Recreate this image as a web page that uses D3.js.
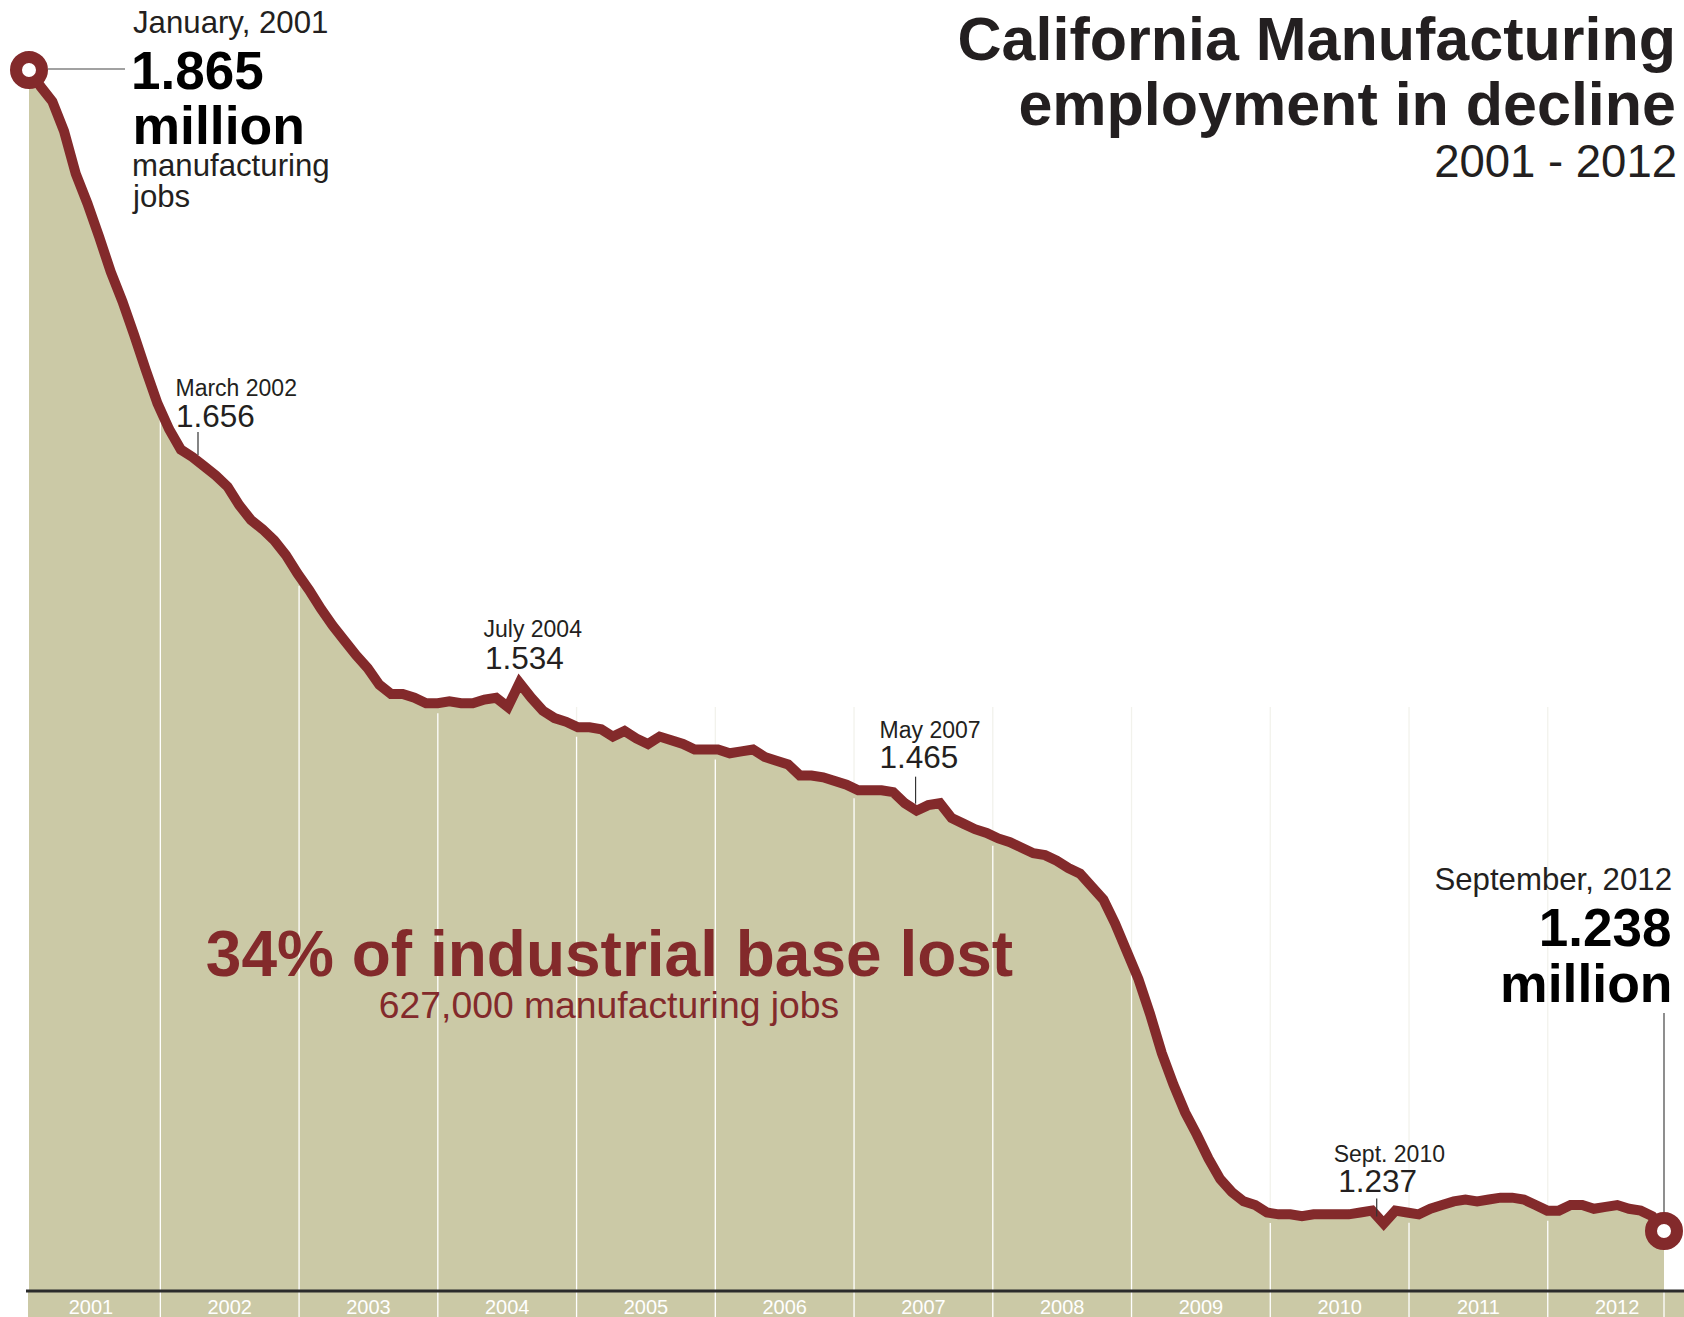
<html>
  <head>
    <title>California Manufacturing employment in decline</title>
    <script src="https://d3js.org/d3.v7.min.js"></script>
    <style>
      body { margin: 0; background: #ffffff; }
      svg { display: block; font-family: "Liberation Sans", Arial, Helvetica, sans-serif; }
    </style>
  </head>
  <body>
    <script>
      const w = 1684;
      const h = 1317;
      const axisY = 1291;

      // California manufacturing jobs, thousands, one value per month
      const jobs2001 = [1865, 1856, 1848, 1832, 1809, 1793, 1775, 1756, 1740, 1722, 1703, 1685];
      const jobs2002 = [1671, 1660, 1656, 1651, 1646, 1640, 1630, 1622, 1617, 1611, 1603, 1593];
      const jobs2003 = [1584, 1574, 1565, 1557, 1549, 1542, 1533, 1528, 1528, 1526, 1523, 1523];
      const jobs2004 = [1524, 1523, 1523, 1525, 1526, 1521, 1534, 1526, 1519, 1515, 1513, 1510];
      const jobs2005 = [1510, 1509, 1505, 1508, 1504, 1501, 1505, 1503, 1501, 1498, 1498, 1498];
      const jobs2006 = [1496, 1497, 1498, 1494, 1492, 1490, 1484, 1484, 1483, 1481, 1479, 1476];
      const jobs2007 = [1476, 1476, 1475, 1469, 1465, 1468, 1469, 1461, 1458, 1455, 1453, 1450];
      const jobs2008 = [1448, 1445, 1442, 1441, 1438, 1434, 1431, 1424, 1417, 1404, 1389, 1374];
      const jobs2009 = [1355, 1334, 1317, 1302, 1290, 1277, 1266, 1259, 1254, 1252, 1248, 1247];
      const jobs2010 = [1247, 1246, 1247, 1247, 1247, 1247, 1248, 1249, 1242, 1249, 1248, 1247];
      const jobs2011 = [1250, 1252, 1254, 1255, 1254, 1255, 1256, 1256, 1255, 1252, 1249, 1249];
      const jobs2012 = [1252, 1252, 1250, 1251, 1252, 1250, 1249, 1246, 1238];

      const years = ["2001", "2002", "2003", "2004", "2005", "2006",
                     "2007", "2008", "2009", "2010", "2011", "2012"];

      const calloutDates = ["March 2002", "July 2004", "May 2007", "Sept. 2010"];
      const calloutValues = ["1.656", "1.534", "1.465", "1.237"];
      const calloutMonths = [14, 42, 76, 116];

      // where each callout sits relative to its point
      const calloutLayout = [
        { dateX: -17, valueX: -16.5, dateY: -61, valueY: -30.5, tick: [5.5, -25, -2] },
        { dateX: -36, valueX: -34.5, dateY: -46, valueY: -14, tick: null },
        { dateX: -37, valueX: -37, dateY: -73, valueY: -42.5, tick: [-1, -34, -7] },
        { dateX: -50, valueX: -45.5, dateY: -62, valueY: -32, tick: [-7, -25, -7] }
      ];

      const lineColor = "#832a2b";
      const fillColor = "#cbc9a6";
      const textColor = "#231f20";

      var dataset = [].concat(jobs2001, jobs2002, jobs2003, jobs2004, jobs2005, jobs2006,
                              jobs2007, jobs2008, jobs2009, jobs2010, jobs2011, jobs2012);
      const last = dataset.length - 1;

      const xScale = d3.scaleLinear().domain([0, last]).range([29, 1664]);
      const yScale = d3.scaleLinear().domain([1238, 1865]).range([1231, 70]);
      const yearScale = d3.scaleBand().domain(years).range([21.6, 1686.5]);

      // value of the line under any x, for where the white year lines start
      function valueAt(px) {
        const t = Math.max(0, Math.min(last, xScale.invert(px)));
        const i = Math.min(last - 1, Math.floor(t));
        return dataset[i] + (dataset[i + 1] - dataset[i]) * (t - i);
      }

      var svg = d3.select("body").append("svg").attr("width", w).attr("height", h);

      // faint year lines that show a little above the fill
      svg.append("g")
        .selectAll("line")
        .data(years.slice(1))
        .join("line")
        .attr("x1", (d) => yearScale(d))
        .attr("x2", (d) => yearScale(d))
        .attr("y1", 707)
        .attr("y2", axisY)
        .attr("stroke", "#f2f2ec")
        .attr("stroke-width", 1.3);

      const area = d3
        .area()
        .x((d, i) => xScale(i))
        .y0(h)
        .y1((d) => yScale(d));

      svg.append("path").datum(dataset).attr("d", area).attr("fill", fillColor);

      // the tan strip under the axis carries on to the edge
      svg
        .append("rect")
        .attr("x", xScale(0) - 1)
        .attr("y", axisY)
        .attr("width", w - xScale(0) + 1)
        .attr("height", h - axisY)
        .attr("fill", fillColor);

      svg.append("g")
        .selectAll("line")
        .data(years.slice(1))
        .join("line")
        .attr("x1", (d) => yearScale(d))
        .attr("x2", (d) => yearScale(d))
        .attr("y1", (d) => yScale(valueAt(yearScale(d))) + 10)
        .attr("y2", h)
        .attr("stroke", "#ffffff")
        .attr("stroke-width", 1.3);

      svg
        .append("line")
        .attr("x1", xScale(last))
        .attr("x2", xScale(last))
        .attr("y1", axisY)
        .attr("y2", h)
        .attr("stroke", "#ffffff")
        .attr("stroke-width", 1.3);

      svg
        .append("line")
        .attr("x1", 26)
        .attr("x2", w)
        .attr("y1", axisY)
        .attr("y2", axisY)
        .attr("stroke", "#2b2b2b")
        .attr("stroke-width", 3);

      svg.append("g")
        .selectAll("text")
        .data(years)
        .join("text")
        .attr("x", (d) => yearScale(d) + yearScale.bandwidth() / 2)
        .attr("y", 1314)
        .attr("text-anchor", "middle")
        .attr("fill", "#ffffff")
        .style("font-size", "20px")
        .text((d) => d);

      const line = d3
        .line()
        .x((d, i) => xScale(i))
        .y((d) => yScale(d));

      svg
        .append("path")
        .datum(dataset)
        .attr("d", line)
        .attr("fill", "none")
        .attr("stroke", lineColor)
        .attr("stroke-width", 10)
        .attr("stroke-linejoin", "miter");

      // leader lines to the two end labels
      svg
        .append("line")
        .attr("x1", xScale(0) + 19)
        .attr("x2", 125)
        .attr("y1", yScale(dataset[0]) - 1)
        .attr("y2", yScale(dataset[0]) - 1)
        .attr("stroke", "#444")
        .attr("stroke-width", 1.2);

      svg
        .append("line")
        .attr("x1", xScale(last))
        .attr("x2", xScale(last))
        .attr("y1", 1013)
        .attr("y2", yScale(dataset[last]) - 19)
        .attr("stroke", "#444")
        .attr("stroke-width", 1.2);

      svg.append("g")
        .selectAll("circle")
        .data([0, last])
        .join("circle")
        .attr("cx", (d) => xScale(d))
        .attr("cy", (d) => yScale(dataset[d]))
        .attr("r", 13)
        .attr("fill", "#ffffff")
        .attr("stroke", lineColor)
        .attr("stroke-width", 12);

      // callouts along the line
      calloutMonths.forEach(function (m, k) {
        const px = xScale(m);
        const py = yScale(dataset[m]);
        const lay = calloutLayout[k];
        svg
          .append("text")
          .attr("x", px + lay.dateX)
          .attr("y", py + lay.dateY)
          .attr("fill", textColor)
          .style("font-size", "23px")
          .text(calloutDates[k]);
        svg
          .append("text")
          .attr("x", px + lay.valueX)
          .attr("y", py + lay.valueY)
          .attr("fill", textColor)
          .style("font-size", "31.5px")
          .text(calloutValues[k]);
        if (lay.tick) {
          svg
            .append("line")
            .attr("x1", px + lay.tick[0])
            .attr("x2", px + lay.tick[0])
            .attr("y1", py + lay.tick[1])
            .attr("y2", py + lay.tick[2])
            .attr("stroke", "#333")
            .attr("stroke-width", 1.2);
        }
      });

      // start label
      const startLabel = svg.append("g").attr("fill", "#000");
      startLabel.append("text").attr("x", 133).attr("y", 33)
        .style("font-size", "31.2px").attr("fill", textColor).text("January, 2001");
      startLabel.append("text").attr("x", 131).attr("y", 89)
        .style("font-size", "53px").style("font-weight", "bold").text("1.865");
      startLabel.append("text").attr("x", 132.5).attr("y", 144)
        .style("font-size", "53.5px").style("font-weight", "bold").text("million");
      startLabel.append("text").attr("x", 132).attr("y", 176)
        .style("font-size", "31.2px").attr("fill", textColor).text("manufacturing");
      startLabel.append("text").attr("x", 133).attr("y", 207)
        .style("font-size", "31.2px").attr("fill", textColor).text("jobs");

      // end label
      const endLabel = svg.append("g").attr("fill", "#000").attr("text-anchor", "end");
      endLabel.append("text").attr("x", 1672).attr("y", 890)
        .style("font-size", "31.2px").attr("fill", textColor).text("September, 2012");
      endLabel.append("text").attr("x", 1671.5).attr("y", 946)
        .style("font-size", "53px").style("font-weight", "bold").text("1.238");
      endLabel.append("text").attr("x", 1672.5).attr("y", 1002)
        .style("font-size", "53.5px").style("font-weight", "bold").text("million");

      // title
      const title = svg.append("g").attr("fill", textColor).attr("text-anchor", "end");
      title.append("text").attr("x", 1676).attr("y", 60)
        .style("font-size", "61px").style("font-weight", "bold").text("California Manufacturing");
      title.append("text").attr("x", 1676).attr("y", 125)
        .style("font-size", "61px").style("font-weight", "bold").text("employment in decline");
      title.append("text").attr("x", 1677).attr("y", 177)
        .style("font-size", "45.5px").text("2001 - 2012");

      // headline inside the area
      svg.append("text").attr("x", 609.5).attr("y", 976)
        .attr("text-anchor", "middle").attr("fill", lineColor)
        .style("font-size", "64px").style("font-weight", "bold")
        .text("34% of industrial base lost");
      svg.append("text").attr("x", 609).attr("y", 1018)
        .attr("text-anchor", "middle").attr("fill", lineColor)
        .style("font-size", "37.3px")
        .text("627,000 manufacturing jobs");
    </script>
  </body>
</html>
